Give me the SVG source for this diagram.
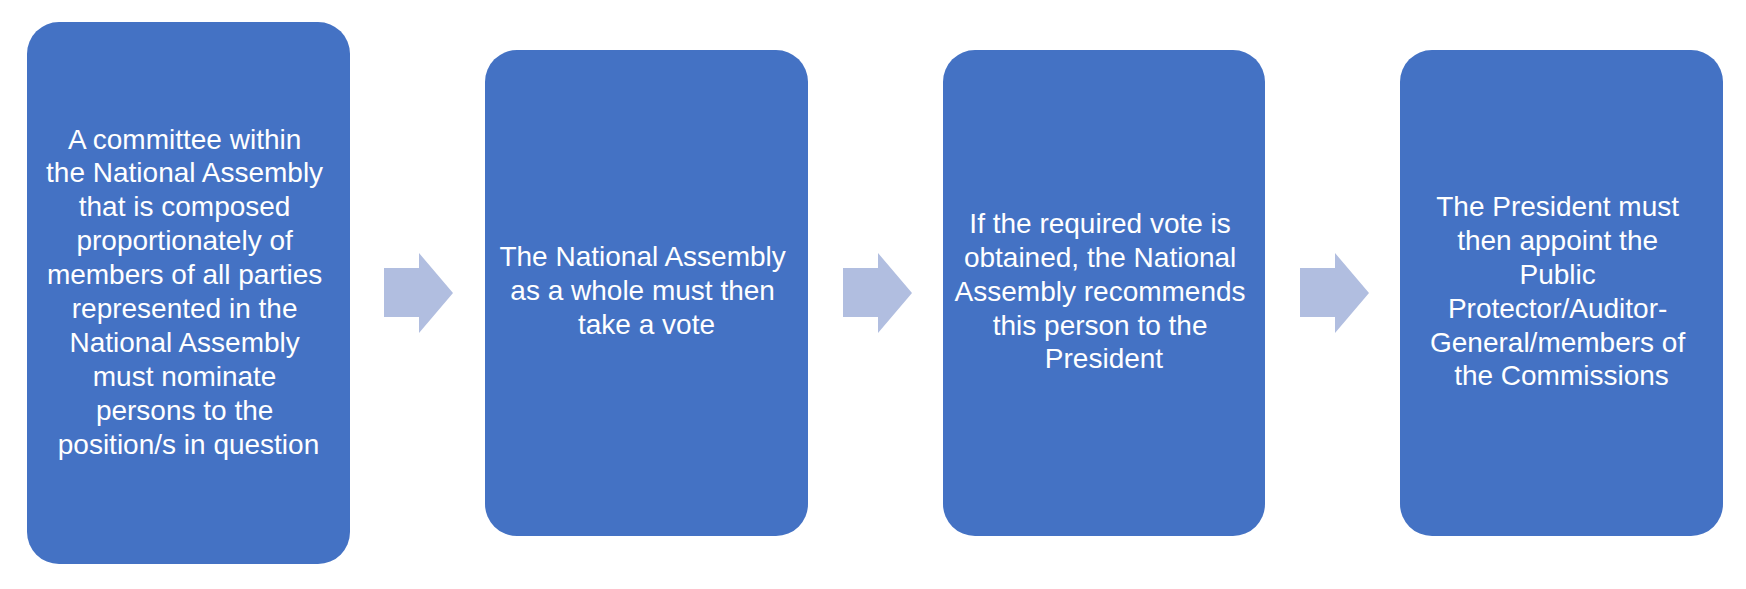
<svg xmlns="http://www.w3.org/2000/svg" width="1746" height="589" viewBox="0 0 1746 589">
<style>
.box{fill:#4472C4;}
.arr{fill:#B1BEE0;}
.t{font-family:"Liberation Sans",Arial,sans-serif;font-size:28px;fill:#FFFFFF;text-anchor:middle;}
</style>
<rect width="1746" height="589" fill="#FFFFFF"/>
<g id="connectors">
<polygon class="arr" points="384,268 419,268 419,253 453,293 419,333 419,317 384,317"/>
<polygon class="arr" points="843,268 878,268 878,253 912,293 878,333 878,317 843,317"/>
<polygon class="arr" points="1300,268 1335,268 1335,253 1369,293 1335,333 1335,317 1300,317"/>
</g>
<g id="node1">
<rect class="box" x="27" y="22" width="323" height="542" rx="32" ry="32"/>
<text class="t">
<tspan x="188.5" y="148.5">A committee within</tspan>
<tspan x="188.5" y="182.4">the National Assembly</tspan>
<tspan x="188.5" y="216.3">that is composed</tspan>
<tspan x="188.5" y="250.2">proportionately of</tspan>
<tspan x="188.5" y="284.1">members of all parties</tspan>
<tspan x="188.5" y="318">represented in the</tspan>
<tspan x="188.5" y="351.9">National Assembly</tspan>
<tspan x="188.5" y="385.8">must nominate</tspan>
<tspan x="188.5" y="419.7">persons to the</tspan>
<tspan x="188.5" y="453.6">position/s in question</tspan>
</text>
</g>
<g id="node2">
<rect class="box" x="485" y="50" width="323" height="486" rx="32" ry="32"/>
<text class="t">
<tspan x="646.5" y="266">The National Assembly</tspan>
<tspan x="646.5" y="300">as a whole must then</tspan>
<tspan x="646.5" y="334">take a vote</tspan>
</text>
</g>
<g id="node3">
<rect class="box" x="943" y="50" width="322" height="486" rx="32" ry="32"/>
<text class="t">
<tspan x="1104" y="233">If the required vote is</tspan>
<tspan x="1104" y="267">obtained, the National</tspan>
<tspan x="1104" y="301">Assembly recommends</tspan>
<tspan x="1104" y="335">this person to the</tspan>
<tspan x="1104" y="368">President</tspan>
</text>
</g>
<g id="node4">
<rect class="box" x="1400" y="50" width="323" height="486" rx="32" ry="32"/>
<text class="t">
<tspan x="1561.5" y="216">The President must</tspan>
<tspan x="1561.5" y="250">then appoint the</tspan>
<tspan x="1561.5" y="284">Public</tspan>
<tspan x="1561.5" y="318">Protector/Auditor-</tspan>
<tspan x="1561.5" y="352">General/members of</tspan>
<tspan x="1561.5" y="385">the Commissions</tspan>
</text>
</g>
</svg>
